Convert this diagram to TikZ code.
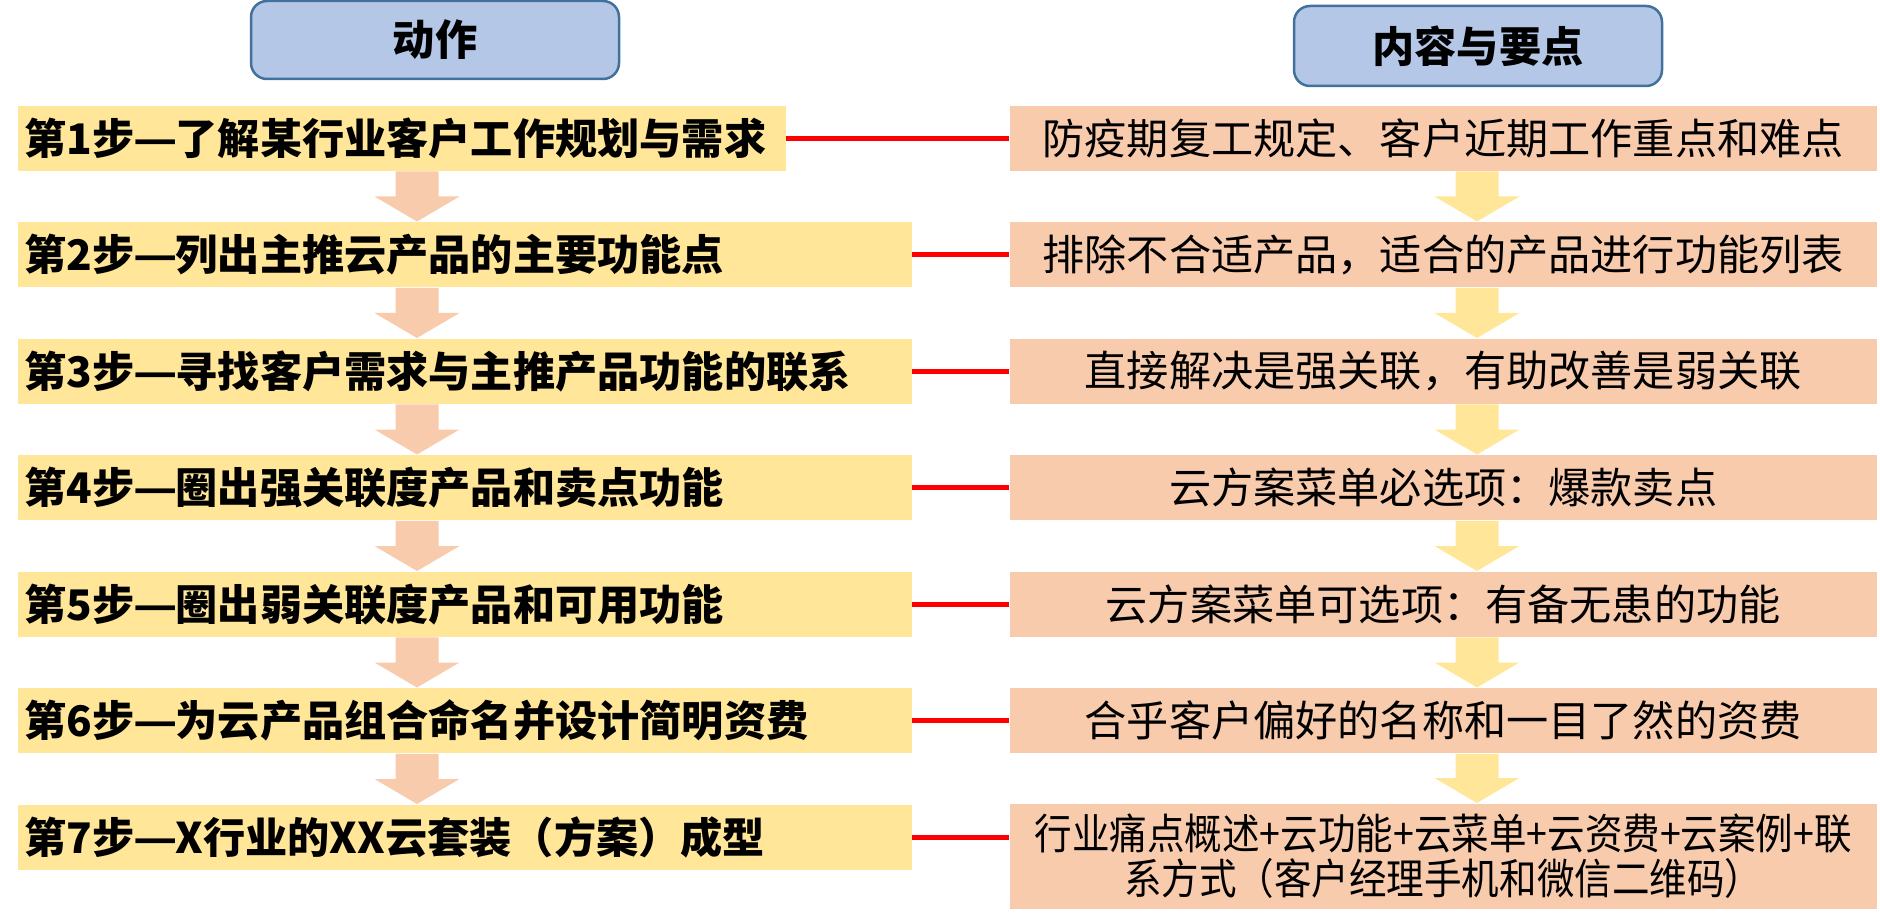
\documentclass[tikz,border=0pt]{standalone}
\usepackage{fontspec}
\setmainfont{Noto Sans CJK SC}
\newfontfamily\cjknarrow[FakeStretch=0.89]{Noto Sans CJK SC}
\newcommand{\stepdash}{\kern-0.04em{\addfontfeature{FakeStretch=1.15}—}\kern-0.04em}
\usetikzlibrary{positioning,calc}
\definecolor{headfill}{HTML}{B4C7E7}
\definecolor{headline}{HTML}{41719C}
\definecolor{stepfill}{HTML}{FFE699}
\definecolor{notefill}{HTML}{F8CBAD}
\definecolor{linkred}{HTML}{FF0000}
\tikzset{
  headbox/.style={draw=headline,fill=headfill,line width=0.25mm,rounded corners=1.6mm,minimum width=36.8mm,minimum height=7.8mm,font=\fontsize{12}{14}\selectfont\bfseries},
  stepbox/.style={fill=stepfill,anchor=north west,minimum height=6.5mm,inner xsep=0.7mm,inner ysep=0pt,align=left,font=\fontsize{12}{14}\selectfont\bfseries},
  notebox/.style={fill=notefill,anchor=north west,minimum width=86.7mm,minimum height=6.5mm,inner ysep=0pt,align=center,font=\fontsize{12}{14}\selectfont},
  redlink/.style={linkred,line width=0.5mm}
}
\newcommand{\fatarrow}[3]{\fill[#3] ($(#1)+(-21.5,0)$) -- ($(#1)+(21.5,0)$) -- ($(#2)+(21.5,-25)$) -- ($(#2)+(42.5,-25)$) -- (#2) -- ($(#2)+(-42.5,-25)$) -- ($(#2)+(-21.5,-25)$) -- cycle;}
\begin{document}
\begin{tikzpicture}[x=0.1mm,y=-0.1mm]
\useasboundingbox (0,0) rectangle (1880,923);
\node[headbox] (hact) at (435,40) {动作};
\node[headbox,minimum height=8mm] (hkey) at (1478,46) {内容与要点};
% left column: the seven steps
\foreach \i/\w/\txt in {1/7.54cm/{了解某行业客户工作规划与需求},2/8.80cm/{列出主推云产品的主要功能点},3/8.80cm/{寻找客户需求与主推产品功能的联系},4/8.80cm/{圈出强关联度产品和卖点功能},5/8.80cm/{圈出弱关联度产品和可用功能},6/8.80cm/{为云产品组合命名并设计简明资费},7/8.80cm/{X行业的XX云套装（方案）成型}}{
  \node[stepbox,text width=\w] (s\i) at (17,{105+116.5*(\i-1)}) {第\i 步\stepdash\txt};
}
% right column: content and key points
\foreach \i/\txt in {1/{防疫期复工规定、客户近期工作重点和难点},2/{排除不合适产品，适合的产品进行功能列表},3/{直接解决是强关联，有助改善是弱关联},4/{云方案菜单必选项：爆款卖点},5/{云方案菜单可选项：有备无患的功能},6/{合乎客户偏好的名称和一目了然的资费}}{
  \node[notebox] (k\i) at (1009,{105+116.5*(\i-1)}) {\txt};
}
\node[notebox,minimum height=10.5mm,font=\cjknarrow\fontsize{12}{12.8}\selectfont] (k7) at (1009,803) {行业痛点概述+云功能+云菜单+云资费+云案例+联\\系方式（客户经理手机和微信二维码）};
\coordinate (la) at (417,0);
\coordinate (ra) at (1477,0);
\foreach \i [count=\j from 2] in {1,...,6}{
  \fatarrow{s\i.south -| la}{s\j.north -| la}{notefill}
  \fatarrow{k\i.south -| ra}{k\j.north -| ra}{stepfill}
}
\foreach \i in {1,...,7}{\draw[redlink] (s\i.east) -- (s\i.east -| k\i.west);}
\end{tikzpicture}
\end{document}
